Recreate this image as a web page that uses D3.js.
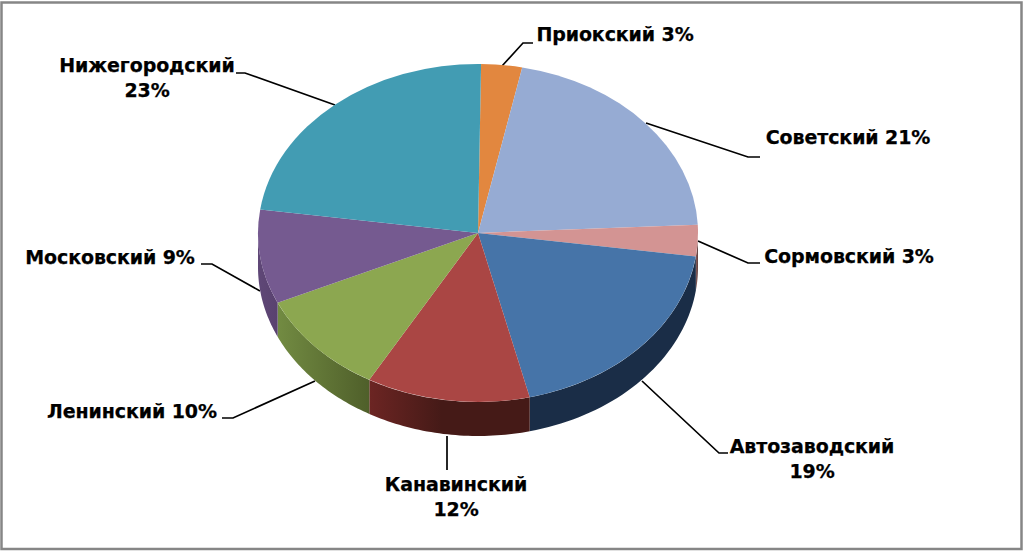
<!DOCTYPE html>
<html>
<head>
<meta charset="utf-8">
<script src="https://cdn.jsdelivr.net/npm/d3@7"></script>
<style>
  html, body { margin: 0; padding: 0; background: #fff; }
  text { font-family: "DejaVu Sans", sans-serif; font-weight: bold; font-size: 19px; letter-spacing: -0.1px; fill: #000; stroke: #000; stroke-width: 0.25px; }
</style>
</head>
<body>
<div id="container"></div>
<script>
const categories = ["Приокский", "Советский", "Сормовский", "Автозаводский", "Канавинский", "Ленинский", "Московский", "Нижегородский"];
const shares = [3, 21, 3, 19, 12, 10, 9, 23];
const topColors = ["#e2873f", "#96abd3", "#d39493", "#4674a8", "#aa4644", "#8ca750", "#755a90", "#429cb3"];
const sideColorsFrom = ["#8a5325", "#5a6a85", "#8a5f5e", "#1a2d47", "#6c2523", "#728b42", "#5f4777", "#27606f"];
const sideColorsTo = ["#8a5325", "#5a6a85", "#5c3f3e", "#1a2d47", "#451a17", "#4f5f2a", "#59426f", "#27606f"];
const sideFadeEnd = ["100%", "100%", "100%", "100%", "45%", "100%", "100%", "100%"];

// label text lines, anchor and leader line for each slice, same order as categories
const labelLines = [
  ["Приокский 3%"], ["Советский 21%"], ["Сормовский 3%"], ["Автозаводский", "19%"],
  ["Канавинский", "12%"], ["Ленинский 10%"], ["Московский 9%"], ["Нижегородский", "23%"]
];
const labelPos = [[615, 34], [848, 137], [849, 256], [812, 446], [456, 484], [132, 411], [110, 257], [147, 65]];
const leaders = [
  [[502, 66], [523, 43], [533, 43]],
  [[646, 123], [748, 157], [760, 157]],
  [[698, 241], [748, 263], [760, 263]],
  [[642, 381], [719, 453], [728, 453]],
  [[447, 436], [447, 470]],
  [[315, 381], [233, 418], [222, 418]],
  [[260, 291], [212, 264], [201, 264]],
  [[335, 105], [245, 73], [236, 73]]
];

const width = 1024;
const height = 552;
const cx = 478;
const cy = 233;
const rx = 220;
const ry = 169;
const depth = 34;

const svg = d3.select("#container").append("svg")
  .attr("width", width)
  .attr("height", height)
  .style("display", "block");

svg.append("rect")
  .attr("x", 1.5).attr("y", 2.5)
  .attr("width", 1020).attr("height", 546.5)
  .attr("fill", "#fff")
  .attr("stroke", "#868686")
  .attr("stroke-width", 2.5);

const line = d3.line();

svg.append("g").selectAll("path")
  .data(leaders)
  .join("path")
  .attr("d", line)
  .attr("fill", "none")
  .attr("stroke", "#000")
  .attr("stroke-width", 1.7);

const pie = d3.pie().sort(null).startAngle(0.014).endAngle(0.014 + 2 * Math.PI);
const arcs = pie(shares);

const defs = svg.append("defs");
arcs.forEach((d, i) => {
  const grad = defs.append("linearGradient").attr("id", "side" + i);
  grad.append("stop").attr("offset", "0%").attr("stop-color", sideColorsFrom[i]);
  grad.append("stop").attr("offset", sideFadeEnd[i]).attr("stop-color", sideColorsTo[i]);
});

// point on the top ellipse for a clockwise angle from 12 o'clock
const rim = a => [cx + rx * Math.sin(a), cy - ry * Math.cos(a)];

// only the front half of the rim has a visible wall
const sidePath = d => {
  const a0 = Math.max(d.startAngle, Math.PI / 2);
  const a1 = Math.min(d.endAngle, 3 * Math.PI / 2);
  if (a1 <= a0) return null;
  const angles = d3.range(0, 41).map(k => a0 + (a1 - a0) * k / 40);
  const upper = angles.map(rim);
  const lower = angles.map(rim).reverse().map(([x, y]) => [x, y + depth]);
  return line(upper.concat(lower)) + "Z";
};

svg.append("g").selectAll("path")
  .data(arcs.filter(sidePath))
  .join("path")
  .attr("d", sidePath)
  .attr("fill", d => `url(#side${d.index})`);

// unit arc squashed into the tilted ellipse
const arc = d3.arc().innerRadius(0).outerRadius(1);

svg.append("g")
  .attr("transform", `translate(${cx},${cy}) scale(${rx},${ry})`)
  .selectAll("path")
  .data(arcs)
  .join("path")
  .attr("d", arc)
  .attr("fill", (d, i) => topColors[i]);

const labels = svg.append("g").selectAll("text")
  .data(categories)
  .join("text")
  .attr("text-anchor", "middle")
  .attr("transform", (d, i) => `translate(${labelPos[i]})`);

labels.selectAll("tspan")
  .data((d, i) => labelLines[i])
  .join("tspan")
  .attr("x", 0)
  .attr("y", (d, i) => i * 25 + 7)
  .text(d => d);
</script>
</body>
</html>
